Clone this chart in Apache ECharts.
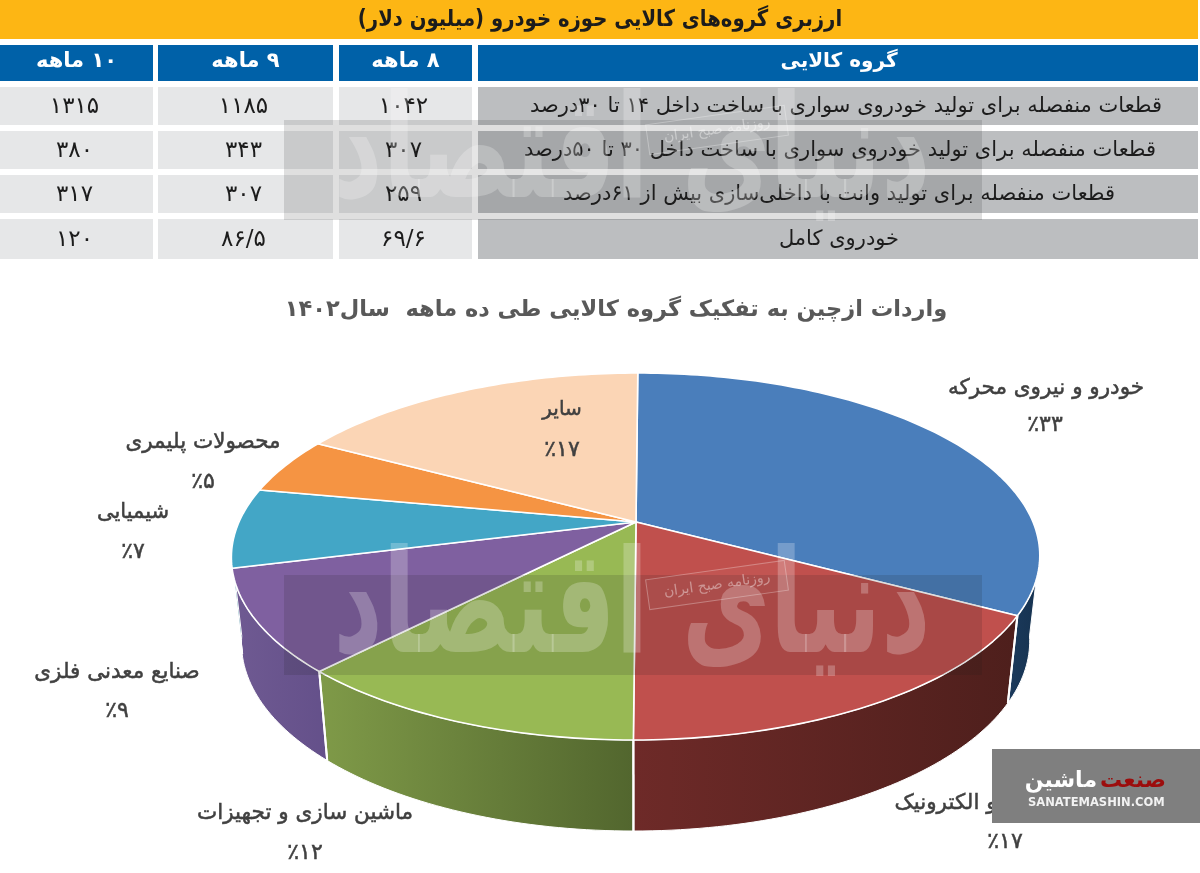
<!DOCTYPE html>
<html dir="rtl"><head><meta charset="utf-8">
<style>html,body{margin:0;padding:0;background:#fff}#c{width:1200px;height:873px}</style>
<script src="https://cdn.jsdelivr.net/npm/echarts@6/dist/echarts.min.js"></script>
</head><body><div id="c"></div>
<script>
// ---- data ----
const tableTitle = 'ارزبری گروه‌های کالایی حوزه خودرو (میلیون دلار)';
const tableHeaders = ['گروه کالایی', '۸ ماهه', '۹ ماهه', '۱۰ ماهه'];
const tableGroups = [
  'قطعات منفصله برای تولید خودروی سواری با ساخت داخل ۱۴ تا ۳۰درصد',
  'قطعات منفصله برای تولید خودروی سواری با ساخت داخل ۳۰ تا ۵۰درصد',
  'قطعات منفصله برای تولید وانت با داخلی‌سازی بیش از ۶۱درصد',
  'خودروی کامل'
];
const months8 = [1042, 307, 259, 69.6];
const months9 = [1185, 343, 307, 86.5];
const months10 = [1315, 380, 317, 120];
const pieTitle = 'واردات ازچین به تفکیک گروه کالایی طی ده ماهه  سال۱۴۰۲';
const pieCategories = ['خودرو و نیروی محرکه', 'صنایع برق و الکترونیک', 'ماشین سازی و تجهیزات', 'صنایع معدنی فلزی', 'شیمیایی', 'محصولات پلیمری', 'سایر'];
const pieValues = [33, 17, 12, 9, 7, 5, 17];

// ---- styling & layout ----
const FONT = '"DejaVu Sans", sans-serif';
const topColors = ['#4a7ebb', '#c0504d', '#98b954', '#7f60a0', '#43a6c6', '#f59443', '#fbd5b5'];
const wallColors = [['#1b3a5c', '#16324f'], ['#6e2a28', '#4e1f1c'], ['#7f9a48', '#52662e'], ['#6f5a92', '#64508a'], ['#2f7f96', '#2f7f96'], ['#b86d2e', '#b86d2e'], ['#c0a080', '#c0a080']];
const labelPos = [[1046, 388, 1045, 425], [994, 803, 1005, 842], [305, 813, 305, 853], [117, 672, 117, 711], [133, 513, 133, 552], [203, 442, 203, 482], [562, 410, 562, 450]];
const labelSizes = [21.5, 21.5, 21.5, 21.5, 21, 21.5, 20];
const colX = [[478, 1198], [339, 472], [158, 333], [0, 153]];
const rowY = [[87, 125], [131, 169], [175, 213], [219, 259]];
const groupTextCx = [846, 840, 839, 839];

// perspective projection of the pie disc
const P = {cx: 636, cy: 522, a: 397, b: 177, k: 0.188, shear: 0.012, wallX: 0.975, wallY: 1.03, depth: 84.5};
function proj(theta, lower) {
  const x = Math.sin(theta), y = Math.cos(theta), d = 1 + P.k * y;
  const u = P.a * x / d, v = P.b * y / d, s = P.shear * v;
  return lower ? [P.cx + (u + s) * P.wallX, P.cy - v * P.wallY + P.depth] : [P.cx + u + s, P.cy - v];
}
const total = pieValues.reduce((s, v) => s + v, 0);
function sliceAngles(i) {
  let s = 0; for (let j = 0; j < i; j++) s += pieValues[j];
  return [s / total * 2 * Math.PI, (s + pieValues[i]) / total * 2 * Math.PI];
}
function arc(t0, t1, lower) {
  const n = Math.max(2, Math.ceil((t1 - t0) / 0.02)), pts = [];
  for (let i = 0; i <= n; i++) pts.push(proj(t0 + (t1 - t0) * i / n, lower));
  return pts;
}
function fa(n) { return String(n).replace('.', '/').replace(/\d/g, d => '۰۱۲۳۴۵۶۷۸۹'[d]); }

const wallRange = [Math.PI * 0.55, Math.PI * 1.45];
function renderWall(params, api) {
  const i = params.dataIndex;
  const [a0, a1] = sliceAngles(i);
  const t0 = Math.max(a0, wallRange[0]), t1 = Math.min(a1, wallRange[1]);
  if (t1 <= t0) return {type: 'group', children: []};
  const up = arc(t0, t1, false), lo = arc(t0, t1, true);
  const xs = up.concat(lo).map(p => p[0]);
  const x0 = Math.min(...xs), x1 = Math.max(...xs);
  const c = wallColors[i];
  const fill = new echarts.graphic.LinearGradient(x0, 0, x1, 0, [{offset: 0, color: c[0]}, {offset: 1, color: c[1]}], true);
  const children = [{
    type: 'polygon', z2: 1,
    shape: {points: up.concat(lo.slice().reverse())},
    style: {fill: fill, stroke: '#fff', lineWidth: 1, lineJoin: 'round'}
  }];
  // white seams where two slices meet on the wall
  [a0, a1].forEach(a => {
    if (a >= wallRange[0] && a <= wallRange[1]) {
      const p = proj(a, false), q = proj(a, true);
      children.push({type: 'line', z2: 2, shape: {x1: p[0], y1: p[1], x2: q[0], y2: q[1]}, style: {stroke: '#fff', lineWidth: 2}});
    }
  });
  return {type: 'group', children: children};
}
function renderTop(params, api) {
  const i = params.dataIndex;
  const [a0, a1] = sliceAngles(i);
  const pts = [[P.cx, P.cy]].concat(arc(a0, a1, false));
  const lp = labelPos[i];
  const txt = (t, x, y, size) => ({type: 'text', x: x, y: y, z2: 5, style: {text: t, font: size + 'px ' + FONT, fill: '#404040', stroke: '#404040', lineWidth: 0.5, align: 'center', verticalAlign: 'middle'}});
  return {type: 'group', children: [
    {type: 'polygon', shape: {points: pts}, style: {fill: topColors[i], stroke: '#fff', lineWidth: 1.6, lineJoin: 'round'}},
    txt(pieCategories[i], lp[0], lp[1], labelSizes[i]),
    txt('٪' + fa(api.value(0)), lp[2], lp[3], 22)
  ]};
}

// ---- table & overlays ----
const g = [];
function rect(x0, y0, x1, y1, fill, z) { g.push({type: 'rect', z: z || 1, silent: true, shape: {x: x0, y: y0, width: x1 - x0, height: y1 - y0}, style: {fill: fill}}); }
function text(t, x, y, font, fill, z, extra) { g.push(Object.assign({type: 'text', z: z || 2, silent: true, x: x, y: y, style: {text: t, font: font + ' ' + FONT, fill: fill, align: 'center', verticalAlign: 'middle'}}, extra || {})); }

rect(0, 0, 1198, 39, '#fdb614');
text(tableTitle, 600, 20, '700 23px', '#1c1c1c', 2, {scaleX: 0.855});
colX.forEach((c, i) => {
  rect(c[0], 45, c[1], 81, '#0061a8');
  text(tableHeaders[i], (i === 0 ? 839 : (c[0] + c[1]) / 2), 62, i === 0 ? '700 20px' : '700 21px', '#fff');
});
const cols = [months8, months9, months10];
rowY.forEach((r, ri) => {
  rect(colX[0][0], r[0], colX[0][1], r[1], '#bcbec0');
  text(tableGroups[ri], groupTextCx[ri], (r[0] + r[1]) / 2 + 1, '21px', '#1c1c1c');
  cols.forEach((col, ci) => {
    const c = colX[ci + 1];
    rect(c[0], r[0], c[1], r[1], '#e6e7e8');
    text(fa(col[ri]), (c[0] + c[1]) / 2 - 2, (r[0] + r[1]) / 2 + 1, '23px', '#1c1c1c');
  });
});
// repeated publisher watermark: band, calligraphy, stamp
[0, 455].forEach(dy => {
  rect(284, 120 + dy, 982, 220 + dy, 'rgba(30,30,30,0.14)', 20);
  text('دنیای اقتصاد', 632, 160 + dy, '700 96px', 'rgba(255,255,255,0.24)', 21, {scaleY: 1.5});
  g.push({type: 'rect', z: 21, silent: true, x: 717, y: 130 + dy, rotation: 0.14, shape: {x: -70, y: -15, width: 140, height: 30}, style: {fill: 'rgba(255,255,255,0.03)', stroke: 'rgba(255,255,255,0.3)', lineWidth: 1}});
  text('روزنامه صبح ایران', 717, 130 + dy, '14px', 'rgba(255,255,255,0.4)', 22, {rotation: 0.14});
});
// site stamp
rect(992, 749, 1200, 823, '#7f7f7f', 30);
g.push({type: 'text', z: 31, silent: true, x: 1166, y: 781, style: {text: 'صنعت', font: '700 22px ' + FONT, fill: '#9c0c0c', align: 'right', verticalAlign: 'middle'}});
g.push({type: 'text', z: 31, silent: true, x: 1097, y: 781, style: {text: 'ماشین', font: '700 22px ' + FONT, fill: '#fff', align: 'right', verticalAlign: 'middle'}});
g.push({type: 'text', z: 31, silent: true, x: 1028, y: 803, style: {text: 'SANATEMASHIN.COM', font: '700 11.5px ' + FONT, fill: '#f2f2f2', align: 'left', verticalAlign: 'middle'}});

const chart = echarts.init(document.getElementById('c'), null, {renderer: 'canvas'});
chart.setOption({
  animation: false,
  backgroundColor: '#fff',
  title: {text: pieTitle, left: 611, top: 294, textAlign: 'center', textStyle: {fontFamily: 'DejaVu Sans', fontSize: 22.5, fontWeight: 700, color: '#595959'}},
  tooltip: {show: false},
  series: [
    {type: 'custom', coordinateSystem: 'none', z: 2, renderItem: renderWall, data: pieValues, silent: true},
    {type: 'custom', coordinateSystem: 'none', z: 3, renderItem: renderTop, data: pieValues, silent: true}
  ],
  graphic: {elements: g}
});
</script></body></html>
